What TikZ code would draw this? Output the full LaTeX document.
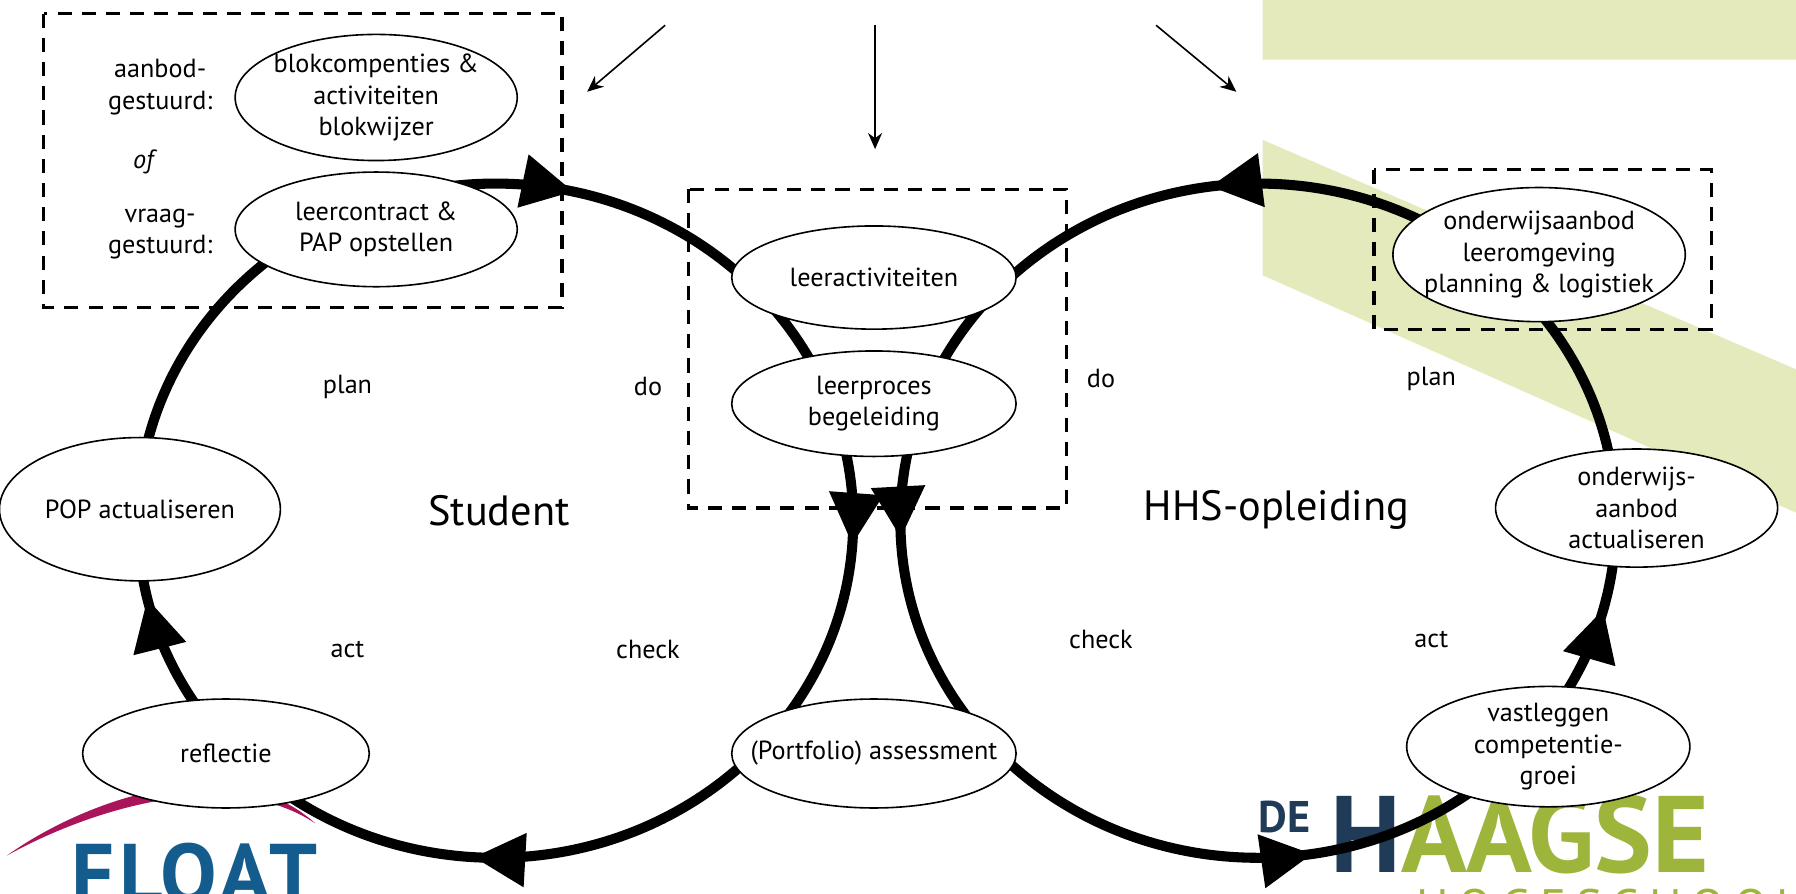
\documentclass[tikz,border=0pt]{standalone}
\usepackage{fontspec}
\setmainfont{PT Sans}
\usetikzlibrary{arrows.meta,shapes.geometric,decorations.markings}
\definecolor{bandgroen}{RGB}{229,234,188}
\definecolor{logogroen}{RGB}{157,181,59}
\definecolor{logoblauw}{RGB}{31,59,87}
\definecolor{floatblauw}{RGB}{20,92,142}
\definecolor{floatrood}{RGB}{170,20,90}
\begin{document}
\begin{tikzpicture}[>={Stealth[length=8pt,width=7pt]},x=0.02cm,y=-0.02cm,font=\fontsize{13}{15.5}\selectfont,
    stap/.style={ellipse,draw,line width=0.8pt,fill=white,inner sep=0pt},
    tekst/.style={align=center},
    kader/.style={line width=1.6pt,dash pattern=on 7pt off 5pt},
    lus/.style={line width=5pt,postaction={decorate}},
    pijl/.style={->,line width=0.8pt},
    kop/.style={tekst,anchor=north west,inner sep=0pt}]
    \useasboundingbox (0,0) rectangle (1566,779.5);
    \clip (0,0) rectangle (1566,779.5);
    \fill[bandgroen] (1101,0) rectangle (1566,52) (1101,122) -- (1566,322) -- (1566,447) -- (1101,240) -- cycle;

    \fill[floatrood] (6,746) .. controls (70,700) and (200,650) .. (275,718) .. controls (200,668) and (80,705) .. cycle;
    \node[kop,floatblauw,font=\fontsize{42}{42}\bfseries\selectfont\addfontfeatures{LetterSpace=6}] (float) at (62,735) {FLOAT};
    \node[kop,logoblauw,font=\fontsize{22}{22}\bfseries\selectfont] (de) at (1097,698) {DE};
    \node[kop,font=\fontsize{54}{54}\bfseries\selectfont] (haagse) at (1160,693) {\textcolor{logoblauw}{H}\textcolor{logogroen}{AAGSE}};
    \node[kop,logogroen,font=\fontsize{24}{24}\selectfont\addfontfeatures{LetterSpace=20}] (hogeschool) at (1235,775) {HOGESCHOOL};

    \coordinate (student-lus) at (432,454);
    \coordinate (opleiding-lus) at (1097,454);
    \draw[lus,decoration={markings,
        mark=at position 0.214 with {\arrowreversed{Triangle[length=0.9cm,width=0.9cm]}},
        mark=at position 0.536 with {\arrowreversed{Triangle[length=0.9cm,width=0.9cm]}},
        mark=at position 0.74 with {\arrowreversed{Triangle[length=0.9cm,width=0.9cm]}},
        mark=at position 0.989 with {\arrowreversed{Triangle[length=0.9cm,width=0.9cm]}}}]
        (student-lus) ellipse[x radius=6.24cm,y radius=5.88cm];
    \draw[lus,decoration={markings,
        mark=at position 0.272 with {\arrow{Triangle[length=0.9cm,width=0.9cm]}},
        mark=at position 0.508 with {\arrow{Triangle[length=0.9cm,width=0.9cm]}},
        mark=at position 0.775 with {\arrow{Triangle[length=0.9cm,width=0.9cm]}},
        mark=at position 0.959 with {\arrow{Triangle[length=0.9cm,width=0.9cm]}}}]
        (opleiding-lus) ellipse[x radius=6.24cm,y radius=5.88cm];

    \draw[kader] (38,12) rectangle (490,268) (600,165) rectangle (930,443) (1198,148) rectangle (1492,287);

    \node[stap,minimum width=4.92cm,minimum height=2.2cm,label={[tekst]center:blokcompenties \&\\activiteiten\\blokwijzer}] (blok) at (328,85) {};
    \node[stap,minimum width=4.92cm,minimum height=2cm,label={[tekst]center:leercontract \&\\PAP opstellen}] (contract) at (328,200) {};
    \node[stap,minimum width=4.96cm,minimum height=1.8cm,label={[tekst]center:leeractiviteiten}] (activiteiten) at (762,242) {};
    \node[stap,minimum width=4.96cm,minimum height=1.84cm,label={[tekst]center:leerproces\\begeleiding}] (begeleiding) at (762,352) {};
    \node[stap,minimum width=4.96cm,minimum height=1.9cm,label={[tekst]center:(Portfolio) assessment}] (assessment) at (762,657) {};
    \node[stap,minimum width=5.1cm,minimum height=2.34cm,label={[tekst]center:onderwijsaanbod\\leeromgeving\\planning \& logistiek}] (aanbod) at (1342,222) {};
    \node[stap,minimum width=4.92cm,minimum height=2.06cm,label={[tekst]center:onderwijs-\\aanbod\\actualiseren}] (actualiseren) at (1427,443) {};
    \node[stap,minimum width=4.9cm,minimum height=2.5cm,label={[tekst]center:POP actualiseren}] (pop) at (122,444) {};
    \node[stap,minimum width=5cm,minimum height=1.9cm,label={[tekst]center:reflectie}] (reflectie) at (197,657) {};
    \node[stap,minimum width=4.94cm,minimum height=2.1cm,label={[tekst]center:vastleggen\\competentie-\\groei}] (groei) at (1350,651) {};

    \node[tekst,anchor=west] (aanbodgestuurd) at (88,76) {aanbod-\\gestuurd:};
    \node[font=\fontsize{13}{15.5}\itshape\selectfont] (of) at (125,141) {of};
    \node[tekst,anchor=west] (vraaggestuurd) at (88,204) {vraag-\\gestuurd:};

    \node (plan-s) at (303,337) {plan};
    \node (do-s) at (565,337) {do};
    \node (act-s) at (303,566) {act};
    \node (check-s) at (565,566) {check};
    \node (do-o) at (960,330) {do};
    \node (plan-o) at (1248,330) {plan};
    \node (check-o) at (960,558) {check};
    \node (act-o) at (1248,558) {act};
    \node[font=\fontsize{21}{25}\selectfont] (student) at (435,445) {Student};
    \node[font=\fontsize{21}{25}\selectfont] (hhs) at (1113,445) {HHS-opleiding};

    \coordinate (bron-l) at (580,22);
    \coordinate (doel-l) at (512,80);
    \coordinate (bron-m) at (763,22);
    \coordinate (doel-m) at (763,130);
    \coordinate (bron-r) at (1008,22);
    \coordinate (doel-r) at (1078,80);
    \draw[pijl] (bron-l) -- (doel-l);
    \draw[pijl] (bron-m) -- (doel-m);
    \draw[pijl] (bron-r) -- (doel-r);
\end{tikzpicture}
\end{document}
